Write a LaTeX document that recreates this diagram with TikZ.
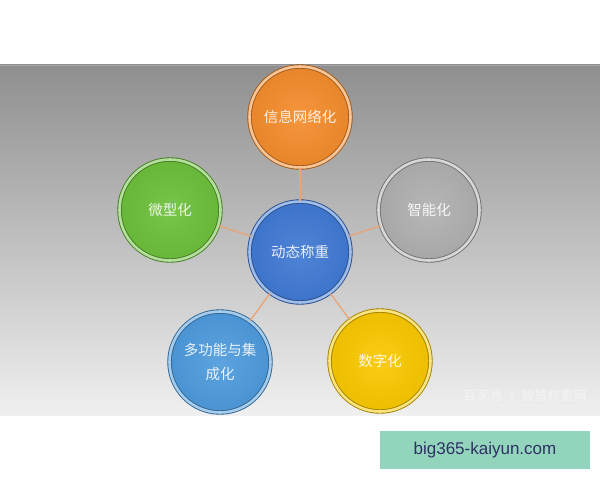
\documentclass[tikz,border=0pt]{standalone}
\usepackage{fontspec}
\newfontfamily\cjk{Noto Sans CJK SC}
\newfontfamily\linkfont{Liberation Sans}
\usepackage{tikz}
\usetikzlibrary{shadings}
\definecolor{discorange}{HTML}{F48C2C}
\definecolor{discgreen}{HTML}{6CC03A}
\definecolor{discgray}{HTML}{B0B0B0}
\definecolor{discblue}{HTML}{4079D4}
\definecolor{disclight}{HTML}{4E9BDD}
\definecolor{discyellow}{HTML}{F9C800}
\definecolor{spoke}{HTML}{E9A476}
\definecolor{tealbox}{HTML}{93D5BC}
\definecolor{linktext}{HTML}{2E3163}
\tikzstyle{link} = [line width=1.3pt, draw=spoke]
\tikzset{disc/.style={circle, minimum size=101pt, inner sep=0pt,
    line width=0.9pt, draw=#1!65!black, double=#1!50!white, double distance=2.6pt,
    inner color=#1!92!white, outer color=#1!95!black,
    text=#1!12!white, font=\cjk\fontsize{14.5}{24}\selectfont, align=center}}

\begin{document}
\begin{tikzpicture}[x=1pt,y=-1pt]
\useasboundingbox (0,0) rectangle (600,480);
\fill[white] (0,0) rectangle (600,480);
\shade[top color=black!44, middle color=black!26, bottom color=black!6] (0,64.5) rectangle (600,415);
\draw[black!35, line width=1pt] (0,65) -- (600,65);

% the five discs round the centre
\node[disc=discblue] (center) at (300,252) {动态称重};
\node[disc=discorange] (network) at (300,117) {信息网络化};
\node[disc=discgray] (smart) at (429,210) {智能化};
\node[disc=discyellow] (digital) at (380,361) {数字化};
\node[disc=disclight] (multi) at (220,362) {多功能与集\\成化};
\node[disc=discgreen] (micro) at (170,210) {微型化};

\draw[link] (center) -- (network);
\draw[link] (center) -- (smart);
\draw[link] (center) -- (digital);
\draw[link] (center) -- (multi);
\draw[link] (center) -- (micro);

\node[text=white, opacity=0.5, font=\cjk\fontsize{13}{15}\selectfont] (mark) at (525,396) {百家号 · 智慧称重网};

\node[fill=tealbox, minimum width=210pt, minimum height=38pt, inner sep=0pt,
  text=linktext, font=\linkfont\fontsize{17}{20}\selectfont] (site) at (485,450) {big365-kaiyun.com};
\end{tikzpicture}
\end{document}
